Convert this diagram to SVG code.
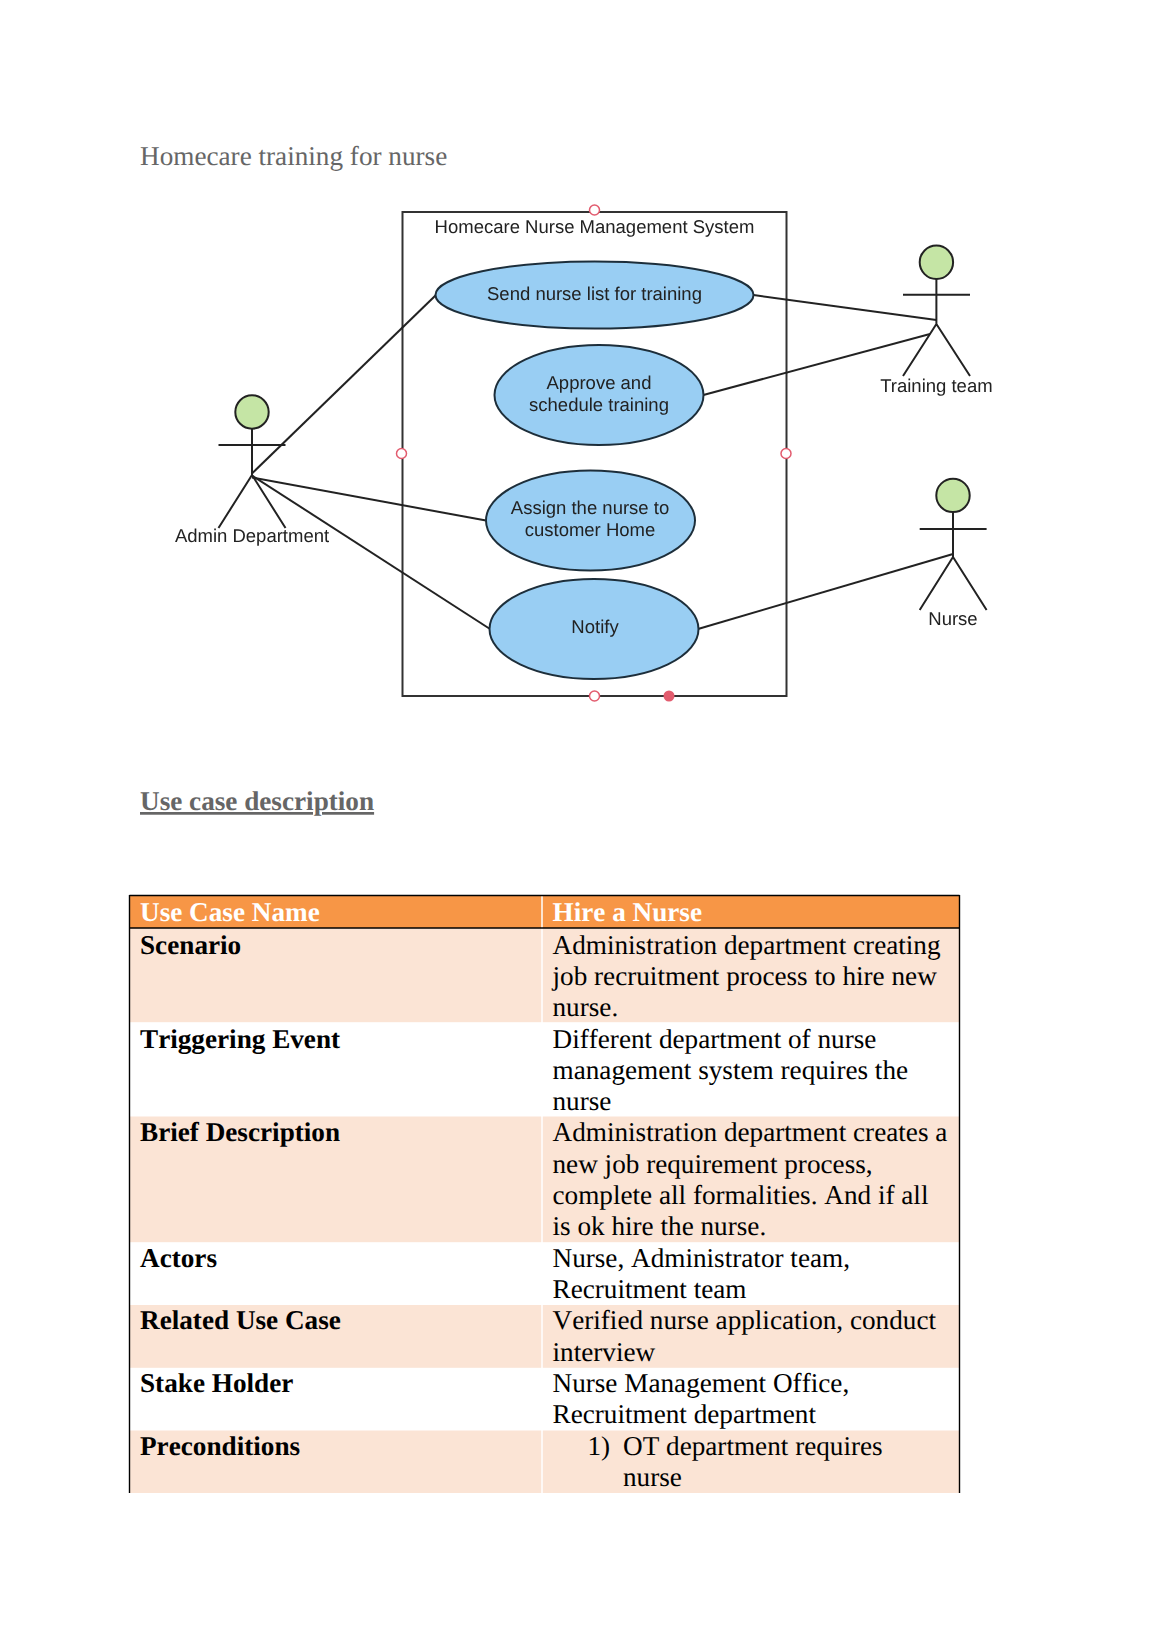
<svg xmlns="http://www.w3.org/2000/svg" width="1158" height="1638" viewBox="0 0 1158 1638">
<style>
text{text-rendering:geometricPrecision}
.t{font-family:"Liberation Serif",serif;font-size:27.2px;fill:#000;font-kerning:none}
.b{font-weight:bold}
.h{font-weight:bold;fill:#fff}
.g{fill:#666}
.s{font-family:"Liberation Sans",sans-serif;font-size:18.5px;fill:#222;text-anchor:middle}
.uc{fill:#99CEF3;stroke:#1f2f3a;stroke-width:2}
.head{fill:#C5E5A5;stroke:#222;stroke-width:2}
.l{stroke:#222;stroke-width:2;fill:none}
.port{fill:#fff;stroke:#E25B6E;stroke-width:1.5}
.tint{fill:#FBE4D5}
.sep{stroke:#fff;stroke-width:1.5}
.bd{stroke:#000;stroke-width:1.4}
.soft{filter:url(#soft)}
</style>
<defs><filter id="soft" x="-5%" y="-5%" width="110%" height="110%"><feGaussianBlur stdDeviation="0.45"/></filter></defs>
<rect width="1158" height="1638" fill="#fff"/>
<text class="t g" x="140" y="165">Homecare training for nurse</text>
<g id="system" class="soft">
<rect x="402.500" y="212" width="384" height="484" fill="#fff" stroke="#333" stroke-width="2"/>
<text class="s" x="594.500" y="233">Homecare Nurse Management System</text>
<circle class="port" cx="594.500" cy="210" r="5"/>
<circle class="port" cx="401.500" cy="453.500" r="5"/>
<circle class="port" cx="786" cy="453.500" r="5"/>
<circle class="port" cx="594.500" cy="696" r="5"/>
<circle cx="669" cy="696" r="5.500" fill="#E25B6E"/>
</g>
<g id="connectors" class="soft">
<path class="l" d="M436 295L252 473.500"/>
<path class="l" d="M753.500 295L936.400 320"/>
<path class="l" d="M703.400 395L930 334"/>
<path class="l" d="M252 477.600L486 520.500"/>
<path class="l" d="M252 475.500L490 629"/>
<path class="l" d="M698 629L953 554"/>
</g>
<g id="uc-send" class="soft"><ellipse class="uc" cx="594.500" cy="295" rx="159" ry="33.500"/><text class="s" x="594.500" y="300">Send nurse list for training</text></g>
<g id="uc-approve" class="soft"><ellipse class="uc" cx="599" cy="395" rx="104.500" ry="50"/><text class="s" x="599" y="389">Approve and</text><text class="s" x="599" y="411">schedule training</text></g>
<g id="uc-assign" class="soft"><ellipse class="uc" cx="590.500" cy="520.500" rx="104.500" ry="50"/><text class="s" x="590" y="514">Assign the nurse to</text><text class="s" x="590" y="536">customer Home</text></g>
<g id="uc-notify" class="soft"><ellipse class="uc" cx="594" cy="629" rx="104.500" ry="50"/><text class="s" x="595" y="633">Notify</text></g>
<g id="actor-admin" class="soft">
<path class="l" d="M252 428.700V475M218.500 445H285.500M252 475L218.500 528M252 475L285.500 528"/>
<circle class="head" cx="252" cy="412" r="16.700"/>
<text class="s" x="252" y="542">Admin Department</text>
</g>
<g id="actor-training" class="soft">
<path class="l" d="M936.400 279V324M903 294.700H970M936.400 324L903 376M936.400 324L970 376"/>
<circle class="head" cx="936.400" cy="262.300" r="16.700"/>
<text class="s" x="936.400" y="392">Training team</text>
</g>
<g id="actor-nurse" class="soft">
<path class="l" d="M953 512V557M919.700 529H986.600M953 557L919.700 610M953 557L986.600 610"/>
<circle class="head" cx="953" cy="495.400" r="16.700"/>
<text class="s" x="953" y="625">Nurse</text>
</g>
<text class="t b g" x="140" y="810" text-decoration="underline">Use case description</text>
<g id="table">
<rect x="130" y="896" width="829" height="32" fill="#F79646"/>
<rect class="tint" x="130" y="928" width="829" height="94.200"/>
<rect class="tint" x="130" y="1116.500" width="829" height="125.700"/>
<rect class="tint" x="130" y="1305" width="829" height="62.800"/>
<rect class="tint" x="130" y="1430.500" width="829" height="62.500"/>
<path class="sep" d="M542 896V1493"/>
<path class="bd" d="M129.500 895.500H959.500M129.500 928H959.500M129.500 895V1493M959.500 895V1493"/>
<text class="t h" x="140" y="921">Use Case Name</text>
<text class="t h" x="552.500" y="921">Hire a Nurse</text>
<text class="t b" x="140" y="954">Scenario</text>
<text class="t" x="552.500" y="954">Administration department creating</text>
<text class="t" x="552.500" y="985">job recruitment process to hire new</text>
<text class="t" x="552.500" y="1016">nurse.</text>
<text class="t b" x="140" y="1048">Triggering Event</text>
<text class="t" x="552.500" y="1048">Different department of nurse</text>
<text class="t" x="552.500" y="1079">management system requires the</text>
<text class="t" x="552.500" y="1110">nurse</text>
<text class="t b" x="140" y="1141">Brief Description</text>
<text class="t" x="552.500" y="1141">Administration department creates a</text>
<text class="t" x="552.500" y="1173">new job requirement process,</text>
<text class="t" x="552.500" y="1204">complete all formalities. And if all</text>
<text class="t" x="552.500" y="1235">is ok hire the nurse.</text>
<text class="t b" x="140" y="1266.500">Actors</text>
<text class="t" x="552.500" y="1266.500">Nurse, Administrator team,</text>
<text class="t" x="552.500" y="1298">Recruitment team</text>
<text class="t b" x="140" y="1329">Related Use Case</text>
<text class="t" x="552.500" y="1329">Verified nurse application, conduct</text>
<text class="t" x="552.500" y="1360.500">interview</text>
<text class="t b" x="140" y="1392">Stake Holder</text>
<text class="t" x="552.500" y="1392">Nurse Management Office,</text>
<text class="t" x="552.500" y="1423">Recruitment department</text>
<text class="t b" x="140" y="1454.500">Preconditions</text>
<text class="t" x="587.500" y="1454.500">1)</text>
<text class="t" x="623" y="1454.500">OT department requires</text>
<text class="t" x="623" y="1486">nurse</text>
</g>
</svg>
